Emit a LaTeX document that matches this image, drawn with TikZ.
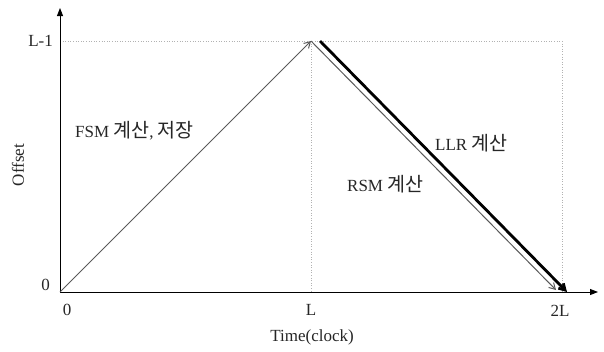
\documentclass[tikz,border=0pt]{standalone}
\usepackage{fontspec}
\setmainfont{Liberation Serif}
\newfontfamily\kr[Scale=1.15]{Noto Sans CJK KR}
\usetikzlibrary{arrows.meta}
\begin{document}
\begin{tikzpicture}[x=1pt,y=-1pt,
  lbl/.style={font=\fontsize{17}{19}\selectfont, inner sep=0pt, text=black!85},
  guide/.style={gray!60, dotted, line width=0.6pt},
  axis/.style={black, line width=0.9pt, -{Triangle[length=8pt,width=6pt]}},
  grayarrow/.style={black!65, line width=1pt, -{Straight Barb[length=6pt,width=7pt]}},
  boldarrow/.style={black, line width=2.8pt, -{Straight Barb[length=6pt,width=7pt]}}]
\useasboundingbox (0,0) rectangle (604,351);
\coordinate (O) at (60,292);
\coordinate (Ytop) at (60,8);
\coordinate (Xend) at (598,292);
\coordinate (P) at (311,41);
\coordinate (PL) at (311,292);
\coordinate (Q) at (562,41);
\coordinate (QL) at (562,292);
\coordinate (Y1) at (60,41);
\coordinate (R) at (556,290);
\coordinate (S) at (320,41);
\coordinate (T) at (567,292);
% guides
\draw[guide] (Y1) -- (Q);
\draw[guide] (P) -- (PL);
\draw[guide] (Q) -- (QL);
% axes
\draw[axis] (O) -- (Ytop);
\draw[axis] (O) -- (Xend);
% arrows
\draw[grayarrow] (O) -- (P);
\draw[grayarrow] (P) -- (R);
\draw[boldarrow] (S) -- (T);
% labels
\node[lbl, anchor=east] (l1) at (53,41) {L-1};
\node[lbl, anchor=east] (z1) at (50,285) {0};
\node[lbl] (z2) at (67,310) {0};
\node[lbl] (lL) at (311,310) {L};
\node[lbl] (l2L) at (560,311) {2L};
\node[lbl] (tc) at (312,337) {Time(clock)};
\node[lbl, rotate=90] (off) at (18,165) {Offset};
\node[lbl, anchor=west] (fsm) at (75,131) {FSM {\kr 계산}, {\kr 저장}};
\node[lbl, anchor=west] (llr) at (435,143) {LLR {\kr 계산}};
\node[lbl, anchor=west] (rsm) at (347,184) {RSM {\kr 계산}};
\end{tikzpicture}
\end{document}
